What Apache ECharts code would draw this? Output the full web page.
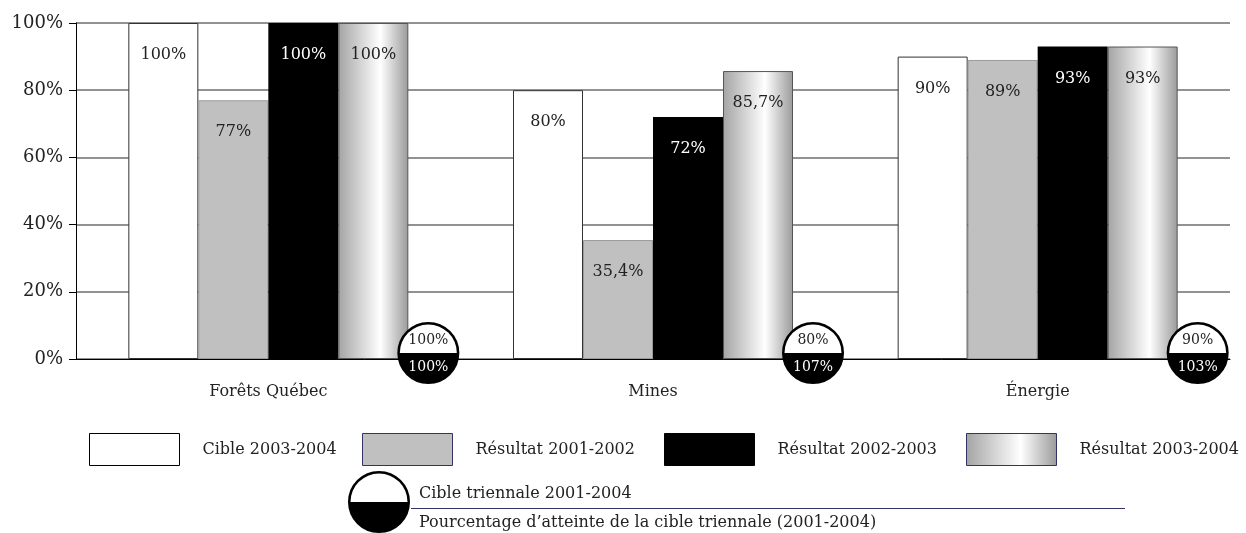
<!DOCTYPE html>
<html>
<head>
<meta charset="utf-8">
<script src="https://cdn.jsdelivr.net/npm/echarts@6/dist/echarts.min.js"></script>
<style>
  html, body { margin: 0; padding: 0; background: #ffffff; }
  #chart { width: 1246px; height: 533px; }
</style>
</head>
<body>
<div id="chart"></div>
<script>
// Secteurs
const categories = ['Forêts Québec', 'Mines', 'Énergie'];
// Valeurs (%)
const cible2003 = [100, 80, 90];
const resultat2001 = [77, 35.4, 89];
const resultat2002 = [100, 72, 93];
const resultat2003 = [100, 85.7, 93];
// Cible triennale 2001-2004 et pourcentage d'atteinte
const cibleTriennale = [100, 80, 90];
const atteinte = [100, 107, 103];
const seriesNames = ['Cible 2003-2004', 'Résultat 2001-2002', 'Résultat 2002-2003', 'Résultat 2003-2004'];
const yTicks = [0, 20, 40, 60, 80, 100];

const FONT = 'DejaVu Serif';
const fmt = v => String(v).replace('.', ',') + '%';

const gradient = new echarts.graphic.LinearGradient(0, 0, 1, 0, [
  { offset: 0, color: '#a4a4a4' },
  { offset: 0.6, color: '#ffffff' },
  { offset: 1, color: '#9a9a9a' }
]);

const BAR_W = 70;

function barSeries(name, values, color, border, labelColor) {
  return {
    name: name,
    type: 'bar',
    data: values,
    barWidth: BAR_W,
    barGap: 0,
    itemStyle: { color: color, borderColor: border, borderWidth: border ? 1 : 0 },
    label: {
      show: true,
      position: 'insideTop',
      distance: 24,
      formatter: p => fmt(p.value),
      color: labelColor,
      fontFamily: FONT,
      fontSize: 16
    },
    emphasis: { disabled: true }
  };
}

const circleData = categories.map((c, i) => [i, cibleTriennale[i], atteinte[i]]);

function renderCircle(params, api) {
  const base = api.coord([api.value(0), 0]);
  const cx = base[0] + 2 * BAR_W + 20;
  const cy = base[1] - 6;
  const r = 30;
  return {
    type: 'group',
    children: [
      { type: 'circle', shape: { cx: cx, cy: cy, r: r }, style: { fill: '#000000', stroke: '#000000', lineWidth: 2 } },
      { type: 'sector', shape: { cx: cx, cy: cy, r0: 0, r: r - 1.5, startAngle: Math.PI, endAngle: 2 * Math.PI }, style: { fill: '#ffffff' } },
      { type: 'text', style: { x: cx, y: cy - 13, text: fmt(api.value(1)), fill: '#222222', font: '14px "' + FONT + '"', align: 'center', verticalAlign: 'middle' } },
      { type: 'text', style: { x: cx, y: cy + 14, text: fmt(api.value(2)), fill: '#ffffff', font: '14px "' + FONT + '"', align: 'center', verticalAlign: 'middle' } }
    ]
  };
}

function legendAt(name, left, borderColor) {
  return {
    data: [name],
    left: left,
    top: 433,
    padding: 0,
    itemWidth: 90,
    itemHeight: 32,
    icon: 'rect',
    selectedMode: false,
    itemStyle: { borderColor: borderColor, borderWidth: 1 },
    textStyle: { fontFamily: FONT, fontSize: 16, color: '#222222', padding: [0, 0, 0, 18] }
  };
}

const chart = echarts.init(document.getElementById('chart'));
chart.setOption({
  animation: false,
  backgroundColor: '#ffffff',
  grid: { left: 76, right: 16, top: 23, bottom: 174, containLabel: false },
  legend: [
    legendAt(seriesNames[0], 89, '#000000'),
    legendAt(seriesNames[1], 362, '#333366'),
    legendAt(seriesNames[2], 664, '#000000'),
    legendAt(seriesNames[3], 966, '#333366')
  ],
  xAxis: {
    type: 'category',
    data: categories,
    axisLine: { lineStyle: { color: '#000000', width: 1 } },
    axisTick: { show: false },
    axisLabel: { fontFamily: FONT, fontSize: 16, color: '#222222', margin: 25 }
  },
  yAxis: {
    type: 'value',
    min: yTicks[0],
    max: yTicks[yTicks.length - 1],
    interval: 20,
    axisLine: { show: true, lineStyle: { color: '#000000', width: 1 } },
    axisTick: { show: true, length: 7, lineStyle: { color: '#000000' } },
    axisLabel: { formatter: '{value}%', fontFamily: FONT, fontSize: 18, color: '#222222', margin: 13 },
    splitLine: { lineStyle: { color: '#6e6e6e', width: 1.5 } }
  },
  series: [
    barSeries(seriesNames[0], cible2003, '#ffffff', '#333333', '#222222'),
    barSeries(seriesNames[1], resultat2001, '#c0c0c0', '#9a9a9a', '#222222'),
    barSeries(seriesNames[2], resultat2002, '#000000', null, '#ffffff'),
    barSeries(seriesNames[3], resultat2003, gradient, '#555555', '#222222'),
    {
      type: 'custom',
      name: 'Cible triennale 2001-2004',
      data: circleData,
      renderItem: renderCircle,
      clip: false,
      z: 10,
      silent: true
    }
  ],
  graphic: [
    { type: 'circle', shape: { cx: 379, cy: 502, r: 30 }, style: { fill: '#000000', stroke: '#000000', lineWidth: 2 } },
    { type: 'sector', shape: { cx: 379, cy: 502, r0: 0, r: 28.5, startAngle: Math.PI, endAngle: 2 * Math.PI }, style: { fill: '#ffffff' } },
    { type: 'text', left: 419, top: 486, style: { text: 'Cible triennale 2001-2004', fill: '#222222', font: '16px "' + FONT + '"' } },
    { type: 'line', shape: { x1: 411, y1: 508.5, x2: 1125, y2: 508.5 }, style: { stroke: '#333366', lineWidth: 1 } },
    { type: 'text', left: 419, top: 515, style: { text: 'Pourcentage d\u2019atteinte de la cible triennale (2001-2004)', fill: '#222222', font: '16px "' + FONT + '"' } }
  ]
});
</script>
</body>
</html>
